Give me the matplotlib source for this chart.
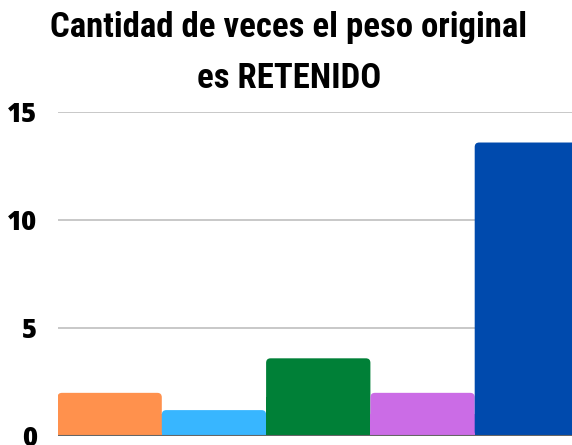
import matplotlib
matplotlib.use("Agg")
import matplotlib.pyplot as plt
from matplotlib.patches import FancyBboxPatch, Rectangle

categories = ["A", "B", "C", "D", "E"]
values = [2.0, 1.2, 3.6, 2.0, 13.6]
colors = ["#FF914D", "#38B6FF", "#008037", "#CB6CE6", "#004AAD"]
yticks = [0, 5, 10, 15]
title_lines = ["Cantidad de veces el peso original", "es RETENIDO"]

W, H = 572, 445
fig = plt.figure(figsize=(W / 100, H / 100), dpi=100)
left_px, right_px = 57.5, 579.0
bottom_px, top_px = 436.0, 112.3
ax = fig.add_axes([left_px / W, (H - bottom_px) / H,
                   (right_px - left_px) / W, (bottom_px - top_px) / H])

x = list(range(len(categories)))
bars = ax.bar(x, values, width=1.0, color=colors, linewidth=0, zorder=3)
ax.set_xlim(-0.5, len(categories) - 0.5)
ax.set_ylim(0, 15)

# rounded top corners
px_per_x = (right_px - left_px) / len(categories)
px_per_y = (bottom_px - top_px) / 15
r_px = 4.5
for b in bars:
    bx, bw, bh = b.get_x(), b.get_width(), b.get_height()
    fc = b.get_facecolor()
    b.set_visible(False)
    rx = r_px / px_per_x
    p = FancyBboxPatch((bx, 0), bw, bh,
                       boxstyle=f"round,pad=0,rounding_size={rx}",
                       mutation_aspect=px_per_x / px_per_y,
                       facecolor=fc, edgecolor="none", zorder=3)
    ax.add_patch(p)
    ax.add_patch(Rectangle((bx, 0), bw, bh / 2, facecolor=fc,
                           edgecolor="none", zorder=3))

ax.set_yticks(yticks)
ax.set_yticklabels([str(t) for t in yticks], fontfamily="Open Sans",
                   fontweight=800, fontstretch="normal", fontsize=18.5,
                   color="black")
ax.set_xticks([])
ax.tick_params(axis="y", length=0, pad=15)
ax.grid(axis="y", color="#BFBFBF", linewidth=1.2, zorder=0)
for s in ["top", "right", "left", "bottom"]:
    ax.spines[s].set_visible(False)
ax.axhline(0, color="#666666", linewidth=1.5, zorder=4)

tfam = ["Roboto Condensed", "DejaVu Sans"]
fig.text(289 / W, 1 - 37 / H, title_lines[0], ha="center", va="baseline",
         fontfamily=tfam, fontweight="bold", fontstretch="condensed",
         fontsize=25)
fig.text(289 / W, 1 - 88 / H, title_lines[1], ha="center", va="baseline",
         fontfamily=tfam, fontweight="bold", fontstretch="condensed",
         fontsize=25)

fig.savefig("out.png", dpi=100)
